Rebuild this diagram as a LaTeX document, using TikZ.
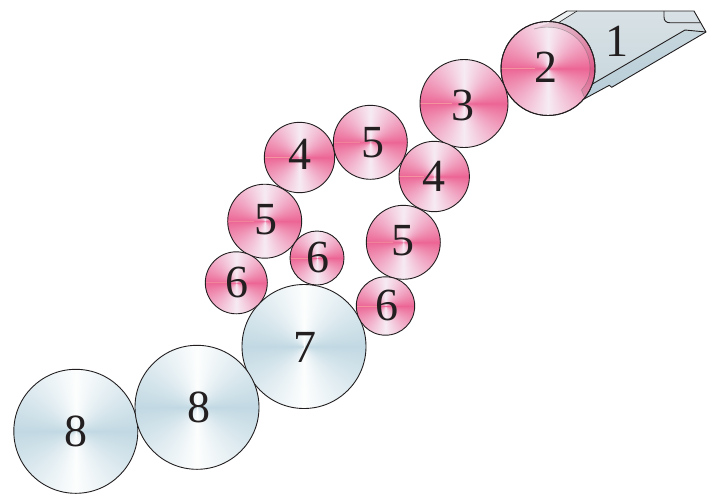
\documentclass[tikz,border=0pt]{standalone}
\usepackage{fontspec}
\usetikzlibrary{calc}
\setmainfont{Liberation Serif}
\pgfdeclarefunctionalshading{conicpink}{\pgfpoint{-60bp}{-60bp}}{\pgfpoint{60bp}{60bp}}{}{
 abs 0.011 add exch abs 0.013 add atan 90 div 0.85 exp
 dup 0.925 exch 0.04 mul add exch
 dup 0.39 exch 0.53 mul add exch
 0.58 exch 0.37 mul add
}
\pgfdeclarefunctionalshading{conicblue}{\pgfpoint{-60bp}{-60bp}}{\pgfpoint{60bp}{60bp}}{}{
 abs 0.011 add exch abs 0.013 add atan 90 div
 dup 0.76 exch 0.23 mul add exch
 dup 0.85 exch 0.145 mul add exch
 0.89 exch 0.105 mul add
}
\definecolor{bladetop}{RGB}{216,225,229}
\definecolor{bladelow}{RGB}{198,214,221}
\definecolor{bandlow}{RGB}{184,206,217}
\definecolor{facet}{RGB}{236,240,241}
\definecolor{ink}{RGB}{35,31,32}
\tikzset{
 x=1pt,y=-1pt,
 pinkroll/.style={circle,draw=ink,line width=0.9pt,inner sep=0pt,shading=conicpink},
 blueroll/.style={circle,draw=ink,line width=0.9pt,inner sep=0pt,shading=conicblue},
 numeral/.style={inner sep=0pt,text=ink,font=\fontsize{46}{46}\selectfont},
 bladeline/.style={draw=ink,line width=0.9pt,line join=round},
 streak/.style={draw={rgb,255:red,250;green,185;blue,165},line width=0.8pt,opacity=0.55},
}
\begin{document}
\begin{tikzpicture}
\useasboundingbox (0,0) rectangle (708,496);
% blade
\path[top color=bladetop,bottom color=bladelow]
 (567,11) -- (694,11) -- (706,32) -- (611.7,87.3) -- (609.3,85.3) -- (584,99) -- (570,60) -- (550,21) -- cycle;
\path[top color=bladelow,bottom color=bandlow] (577,93) -- (685,30) -- (706,32) -- (611.7,87.3) -- (609.3,85.3) -- (584,99) -- cycle;
\path[fill=facet] (550,21) -- (567,11) -- (577,11) -- (558,23) -- cycle;
\draw[bladeline] (550,21) -- (567,11) -- (694,11) -- (706,32) -- (611.7,87.3) -- (609.3,85.3) -- (584,99);
\draw[bladeline] (577,93) -- (685,30) -- (706,32);
\draw[bladeline,line width=0.6pt] (577,11) -- (558,23);
\draw[bladeline] (664,11) -- (664,17) .. controls (664,20.5) and (666,22.7) .. (669.5,22.7) -- (700,22.7);
\node[numeral] (t1) at (616.5,41) {1};
% rollers
\node[pinkroll,minimum size=94pt] (r2) at (548,68.5) {};
\begin{scope}
\clip (548,68.5) circle (47pt);
\fill[black!40!purple,opacity=0.13] (534,29) .. controls (568,20) and (590,45) .. (590,68) .. controls (590,78) and (586,85) .. (581.5,90) -- (585,99) -- (610,60) -- (580,10) -- cycle;
\draw[black!60,opacity=0.45,line width=0.6pt] (534,29) .. controls (568,20) and (590,45) .. (590,68) .. controls (590,78) and (586,85) .. (581.5,90) -- (585,99);
\end{scope}
\draw[ink,line width=0.9pt] (548,68.5) circle (47pt);
\node[pinkroll,minimum size=88pt] (r3) at (464,103.5) {};
\node[pinkroll,minimum size=70.4pt] (r4a) at (299.5,157.5) {};
\node[pinkroll,minimum size=74pt] (r5a) at (370.3,142.3) {};
\node[pinkroll,minimum size=70.4pt] (r4b) at (434.2,176.5) {};
\node[pinkroll,minimum size=74pt] (r5b) at (264.7,221.2) {};
\node[pinkroll,minimum size=74pt] (r5c) at (403.3,242.3) {};
\node[blueroll,minimum size=124pt] (r7) at (304,346.5) {};
\node[pinkroll,minimum size=54pt] (r6a) at (317,258) {};
\node[pinkroll,minimum size=62pt] (r6b) at (236.3,282.8) {};
\node[pinkroll,minimum size=58.4pt] (r6c) at (385.5,306) {};
\node[blueroll,minimum size=124pt] (r8a) at (75.8,431.3) {};
\node[blueroll,minimum size=124pt] (r8b) at (197,407.3) {};
\foreach \r in {r2,r3,r4a,r5a,r4b,r5b,r5c,r6a,r6b,r6c}{
  \path[streak] ([xshift=1pt]\r.west) -- ($(\r.west)!0.72!(\r.center)$);
}
\node[numeral] (t2) at (545.5,67.5) {2};
\node[numeral] (t3) at (463,105) {3};
\node[numeral] (t4a) at (299.5,154.5) {4};
\node[numeral] (t5a) at (373,142.5) {5};
\node[numeral] (t4b) at (434,176) {4};
\node[numeral] (t5b) at (266,220) {5};
\node[numeral] (t5c) at (403,240.7) {5};
\node[numeral] (t6a) at (318,257.5) {6};
\node[numeral] (t6b) at (237,282) {6};
\node[numeral] (t6c) at (387,305.5) {6};
\node[numeral] (t7) at (305,347) {7};
\node[numeral] (t8a) at (76,431) {8};
\node[numeral] (t8b) at (198.7,407) {8};
\end{tikzpicture}
\end{document}
